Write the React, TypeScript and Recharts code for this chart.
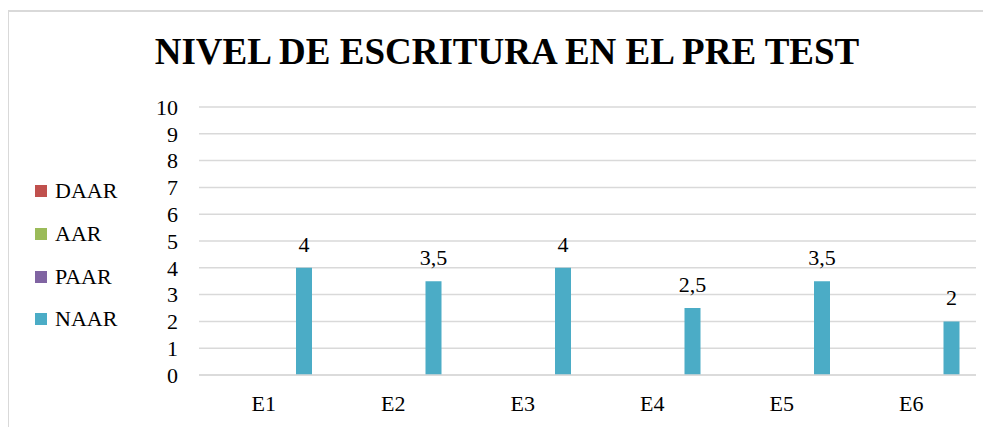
import { Bar, BarChart, CartesianGrid, LabelList, Legend, XAxis, YAxis } from "recharts";

const students = ["E1", "E2", "E3", "E4", "E5", "E6"];
const daar = [0, 0, 0, 0, 0, 0];
const aar = [0, 0, 0, 0, 0, 0];
const paar = [0, 0, 0, 0, 0, 0];
const naar = [4, 3.5, 4, 2.5, 3.5, 2];
const yTicks = [0, 1, 2, 3, 4, 5, 6, 7, 8, 9, 10];

const series = [
  { key: "DAAR", color: "#c0504d" },
  { key: "AAR", color: "#9bbb59" },
  { key: "PAAR", color: "#8064a2" },
  { key: "NAAR", color: "#4bacc6" },
];

const data = students.map((name, i) => ({
  name,
  DAAR: daar[i],
  AAR: aar[i],
  PAAR: paar[i],
  NAAR: naar[i],
}));

const font = "Times New Roman, Liberation Serif, Tinos, DejaVu Serif, serif";

function LegendBox() {
  return (
    <div style={{ width: 150, fontFamily: font, fontSize: 22, color: "#000" }}>
      {series.map((s) => (
        <div key={s.key} style={{ display: "flex", alignItems: "center", height: 42.7 }}>
          <span style={{ width: 12, height: 12, background: s.color, marginRight: 8 }} />
          <span>{s.key}</span>
        </div>
      ))}
    </div>
  );
}

export default function App() {
  return (
    <div
      style={{
        position: "relative",
        width: 984,
        height: 417,
        marginLeft: -1,
        marginTop: 2,
        borderLeft: "2px solid #d9d9d9",
        borderTop: "2px solid #d9d9d9",
      }}
    >
      <div
        style={{
          position: "absolute",
          left: 0,
          top: 21,
          width: 996,
          textAlign: "center",
          fontFamily: font,
          fontWeight: "bold",
          fontSize: 37,
          lineHeight: "37px",
          color: "#000",
        }}
      >
        NIVEL DE ESCRITURA EN EL PRE TEST
      </div>
      <BarChart
        width={982}
        height={415}
        data={data}
        margin={{ top: 95, right: 15, bottom: 12, left: 0 }}
        barSize={16}
        barGap={11}
      >
        <CartesianGrid vertical={false} stroke="#d9d9d9" strokeWidth={1.5} />
        <XAxis
          dataKey="name"
          height={40}
          axisLine={{ stroke: "#d9d9d9", strokeWidth: 1.5 }}
          tickLine={false}
          tickSize={0}
          tickMargin={20}
          tick={{ fill: "#000", fontSize: 22, fontFamily: font }}
        />
        <YAxis
          width={40}
          domain={[0, 10]}
          ticks={yTicks}
          interval={0}
          axisLine={false}
          tickLine={false}
          tickSize={0}
          tickMargin={21}
          tick={{ fill: "#000", fontSize: 22, fontFamily: font }}
        />
        <Legend
          layout="vertical"
          align="left"
          verticalAlign="middle"
          wrapperStyle={{ left: 26, top: 158 }}
          content={() => <LegendBox />}
        />
        {series.map((s) => (
          <Bar key={s.key} dataKey={s.key} fill={s.color} isAnimationActive={false}>
            {s.key === "NAAR" && (
              <LabelList
                dataKey="NAAR"
                position="top"
                offset={16}
                formatter={(v: number) => String(v).replace(".", ",")}
                style={{ fill: "#000", fontSize: 22, fontFamily: font }}
              />
            )}
          </Bar>
        ))}
      </BarChart>
    </div>
  );
}
